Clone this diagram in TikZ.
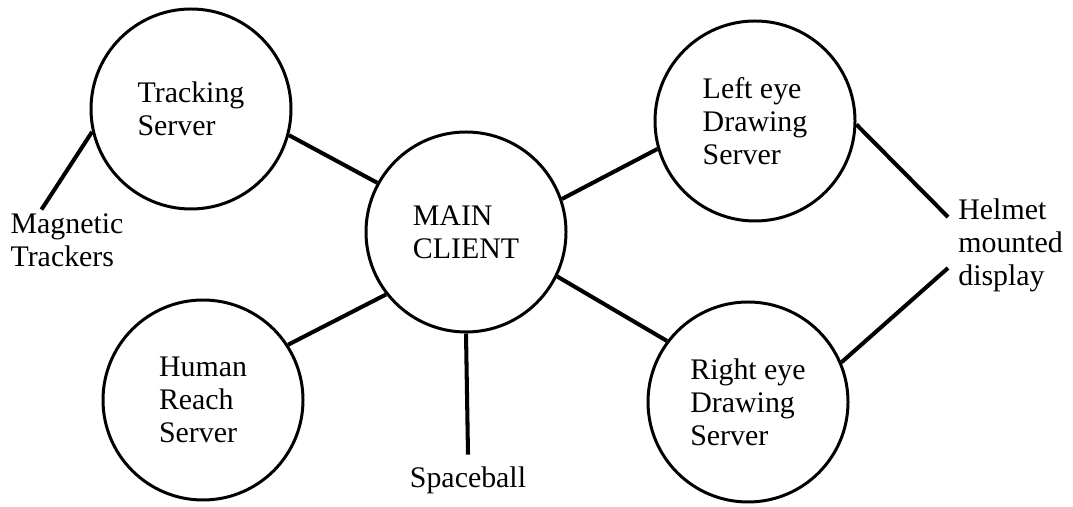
\documentclass[tikz,border=0pt]{standalone}
\usepackage{fontspec}
\setmainfont{Liberation Serif}
\usetikzlibrary{positioning}
\newcommand{\diagfont}{\fontsize{17}{18.8}\selectfont}

\begin{document}
\begin{tikzpicture}[
  srv/.style={draw,circle,line width=1.7pt,minimum size=4cm,inner sep=0pt,
    align=left,font=\diagfont},
  lbl/.style={align=left,font=\diagfont,inner sep=2pt},
  ln/.style={line width=2.3pt}]
  \useasboundingbox (0,0) rectangle (21.46,10.14);
  % the client and its servers
  \node[srv] (main)  at (9.32,5.50)  {MAIN\\CLIENT};
  \node[srv] (track) at (3.82,7.96)  {Tracking\\Server};
  \node[srv] (human) at (4.06,2.14)  {Human\\Reach\\Server};
  \node[srv] (left)  at (15.10,7.72) {Left eye\\Drawing\\Server};
  \node[srv] (right) at (14.96,2.10) {Right eye\\Drawing\\Server};
  % devices
  \node[lbl] (mag) at (1.34,5.34) {Magnetic\\Trackers};
  \node[lbl,inner sep=7pt,anchor=base] (space) at (9.36,0.38) {Spaceball};
  \node[lbl,inner sep=0.2cm,anchor=west] (hmd) at (18.96,5.24) {Helmet\\mounted\\display};
  % links
  \draw[ln] (track.-15) -- (main.151);
  \draw[ln] (main.19) -- (left.196);
  \draw[ln] (main.218) -- (human.33);
  \draw[ln] (main.-26) -- (right.143);
  \draw[ln] (main.south) -- (space.north);
  \draw[ln] (track.193) -- (mag.130);
  \draw[ln] (left.-2) -- ([yshift=0.56cm]hmd.west);
  \draw[ln] (right.23) -- ([yshift=-0.46cm]hmd.west);
\end{tikzpicture}
\end{document}
